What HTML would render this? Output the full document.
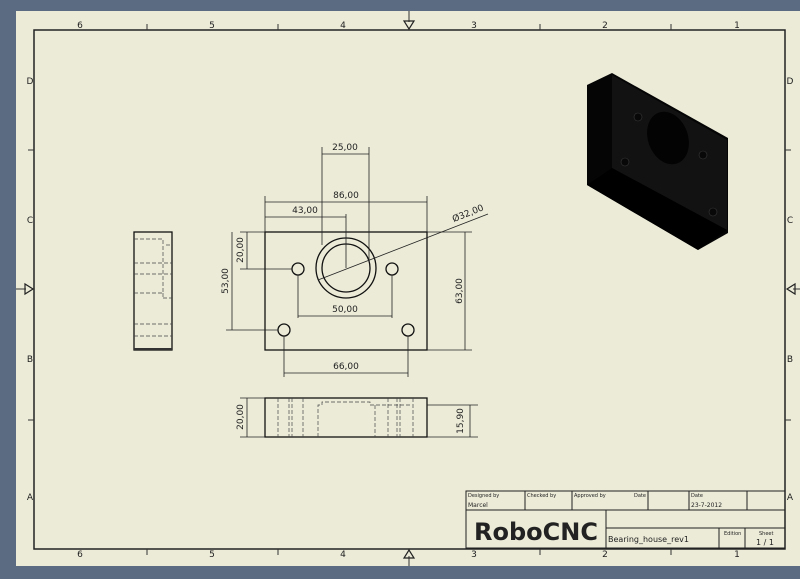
<!DOCTYPE html>
<html><head><meta charset="utf-8"><style>
html,body{margin:0;padding:0;width:800px;height:579px;overflow:hidden;background:#5b6b82}
svg{display:block}
text{font-family:"DejaVu Sans","Liberation Sans",sans-serif;fill:#222}
</style></head><body>
<svg width="800" height="579" viewBox="0 0 800 579" xmlns="http://www.w3.org/2000/svg">
<rect x="16" y="11" width="784" height="555" fill="#ecebd8"/>
<rect x="34" y="30" width="751" height="519" fill="none" stroke="#222" stroke-width="1.5"/>
<g stroke="#333" stroke-width="1">
<line x1="147" y1="24" x2="147" y2="30"/><line x1="278" y1="24" x2="278" y2="30"/><line x1="540" y1="24" x2="540" y2="30"/><line x1="671" y1="24" x2="671" y2="30"/>
<line x1="147" y1="549" x2="147" y2="555"/><line x1="278" y1="549" x2="278" y2="555"/><line x1="540" y1="549" x2="540" y2="555"/><line x1="671" y1="549" x2="671" y2="555"/>
<line x1="28" y1="150" x2="34" y2="150"/><line x1="28" y1="420" x2="34" y2="420"/>
<line x1="785" y1="150" x2="791" y2="150"/><line x1="785" y1="420" x2="791" y2="420"/>
<line x1="409" y1="11" x2="409" y2="22"/><line x1="409" y1="556" x2="409" y2="566"/>
<line x1="16" y1="289" x2="26" y2="289"/><line x1="793" y1="289" x2="800" y2="289"/>
</g>
<g fill="none" stroke="#222" stroke-width="1.2">
<polygon points="404,21 414,21 409,29"/><polygon points="404,558 414,558 409,550"/>
<polygon points="25,284 25,294 33,289"/><polygon points="795,284 795,294 787,289"/>
</g>
<g font-size="9" text-anchor="middle">
<text x="80" y="28">6</text><text x="212" y="28">5</text><text x="343" y="28">4</text><text x="474" y="28">3</text><text x="605" y="28">2</text><text x="737" y="28">1</text>
<text x="80" y="557">6</text><text x="212" y="557">5</text><text x="343" y="557">4</text><text x="474" y="557">3</text><text x="605" y="557">2</text><text x="737" y="557">1</text>
<text x="30" y="84">D</text><text x="30" y="223">C</text><text x="30" y="362">B</text><text x="30" y="500">A</text>
<text x="790" y="84">D</text><text x="790" y="223">C</text><text x="790" y="362">B</text><text x="790" y="500">A</text>
</g>
<g fill="none" stroke="#111" stroke-width="1.3">
<rect x="265" y="232" width="162" height="118"/>
<circle cx="346" cy="268" r="30"/><circle cx="346" cy="268" r="24"/>
<circle cx="298" cy="269" r="6"/><circle cx="392" cy="269" r="6"/>
<circle cx="284" cy="330" r="6"/><circle cx="408" cy="330" r="6"/>
</g>
<g stroke="#222" stroke-width="0.8" fill="none">
<line x1="322" y1="147" x2="322" y2="245"/><line x1="369" y1="147" x2="369" y2="262"/><line x1="322" y1="154" x2="369" y2="154"/>
<line x1="265" y1="196" x2="265" y2="232"/><line x1="427" y1="196" x2="427" y2="232"/><line x1="265" y1="202" x2="427" y2="202"/>
<line x1="346" y1="214" x2="346" y2="268"/><line x1="265" y1="217" x2="346" y2="217"/>
<line x1="318" y1="280" x2="488" y2="214"/>
<line x1="427" y1="232" x2="472" y2="232"/><line x1="427" y1="350" x2="472" y2="350"/><line x1="465" y1="232" x2="465" y2="350"/>
<line x1="240" y1="232" x2="265" y2="232"/><line x1="240" y1="269" x2="292" y2="269"/><line x1="247" y1="232" x2="247" y2="269"/>
<line x1="226" y1="330" x2="278" y2="330"/><line x1="232" y1="232" x2="232" y2="330"/>
<line x1="298" y1="275" x2="298" y2="318"/><line x1="392" y1="275" x2="392" y2="318"/><line x1="298" y1="316" x2="392" y2="316"/>
<line x1="284" y1="336" x2="284" y2="377"/><line x1="408" y1="336" x2="408" y2="377"/><line x1="284" y1="373" x2="408" y2="373"/>
</g>
<g font-size="9" text-anchor="middle">
<text x="345" y="150">25,00</text><text x="346" y="198">86,00</text><text x="305" y="213">43,00</text>
<text x="469" y="216" transform="rotate(-22 469 216)">Ø32,00</text>
<text x="345" y="312">50,00</text><text x="346" y="369">66,00</text>
<text transform="translate(243 250) rotate(-90)">20,00</text>
<text transform="translate(228 281) rotate(-90)">53,00</text>
<text transform="translate(462 291) rotate(-90)">63,00</text>
</g>
<rect x="134" y="232" width="38" height="118" fill="none" stroke="#111" stroke-width="1.3"/>
<line x1="134" y1="349" x2="172" y2="349" stroke="#333" stroke-width="2"/>
<g stroke="#444" stroke-width="0.7" stroke-dasharray="4,2" fill="none">
<polyline points="134,239 163,239 163,293 134,293"/>
<line x1="134" y1="263" x2="172" y2="263"/><line x1="134" y1="274" x2="172" y2="274"/>
<line x1="166" y1="245" x2="172" y2="245"/><line x1="163" y1="293" x2="163" y2="298"/><line x1="163" y1="298" x2="172" y2="298"/>
<line x1="134" y1="324" x2="172" y2="324"/><line x1="134" y1="336" x2="172" y2="336"/>
</g>
<rect x="265" y="398" width="162" height="39" fill="none" stroke="#111" stroke-width="1.3"/>
<g stroke="#444" stroke-width="0.7" stroke-dasharray="4,2" fill="none">
<line x1="278" y1="398" x2="278" y2="437"/><line x1="289" y1="398" x2="289" y2="437"/><line x1="292" y1="398" x2="292" y2="437"/><line x1="303" y1="398" x2="303" y2="437"/>
<polyline points="318,437 318,405 322,405 322,402 370,402 370,405 412,405"/>
<line x1="375" y1="405" x2="375" y2="437"/><line x1="388" y1="398" x2="388" y2="437"/><line x1="397" y1="398" x2="397" y2="437"/><line x1="400" y1="398" x2="400" y2="437"/><line x1="413" y1="398" x2="413" y2="437"/>
</g>
<g stroke="#222" stroke-width="0.8">
<line x1="240" y1="398" x2="265" y2="398"/><line x1="240" y1="437" x2="265" y2="437"/><line x1="247" y1="398" x2="247" y2="437"/>
<line x1="427" y1="405" x2="478" y2="405"/><line x1="427" y1="437" x2="478" y2="437"/><line x1="470" y1="405" x2="470" y2="437"/>
</g>
<g font-size="9" text-anchor="middle">
<text transform="translate(243 417) rotate(-90)">20,00</text>
<text transform="translate(463 421) rotate(-90)">15,90</text>
</g>
<polygon points="587,85 612,73 728,138 728,233 698,250 587,185" fill="#050505"/>
<polygon points="612,75 727,140 727,230 612,168" fill="#121212"/>
<polygon points="587,185 612,168 727,230 698,250" fill="#000"/>
<ellipse cx="668" cy="138" rx="20" ry="27" transform="rotate(-20 668 138)" fill="#030303"/>
<g fill="#080808" stroke="#3a3a3a" stroke-width="0.6">
<circle cx="638" cy="117" r="4"/><circle cx="703" cy="155" r="4"/><circle cx="625" cy="162" r="4"/><circle cx="713" cy="212" r="4"/>
</g>
<g fill="none" stroke="#222" stroke-width="1">
<rect x="466" y="491" width="319" height="57"/>
<line x1="466" y1="510" x2="785" y2="510"/>
<line x1="525" y1="491" x2="525" y2="510"/><line x1="572" y1="491" x2="572" y2="510"/><line x1="648" y1="491" x2="648" y2="510"/><line x1="689" y1="491" x2="689" y2="510"/><line x1="747" y1="491" x2="747" y2="510"/>
<line x1="606" y1="510" x2="606" y2="548"/><line x1="606" y1="528" x2="785" y2="528"/>
<line x1="719" y1="528" x2="719" y2="548"/><line x1="745" y1="528" x2="745" y2="548"/>
</g>
<g font-size="5">
<text x="468" y="497">Designed by</text><text x="527" y="497">Checked by</text><text x="574" y="497">Approved by</text><text x="634" y="497">Date</text><text x="691" y="497">Date</text>
<text x="724" y="535">Edition</text><text x="759" y="535">Sheet</text>
</g>
<text x="468" y="507" font-size="6">Marcel</text><text x="691" y="507" font-size="6">23-7-2012</text>
<text x="536" y="540" font-size="24" font-weight="bold" text-anchor="middle" fill="#111" font-family="Liberation Sans">RoboCNC</text>
<text x="608" y="542" font-size="8">Bearing_house_rev1</text>
<text x="765" y="545" font-size="8" text-anchor="middle">1 / 1</text>
</svg>
</body></html>
